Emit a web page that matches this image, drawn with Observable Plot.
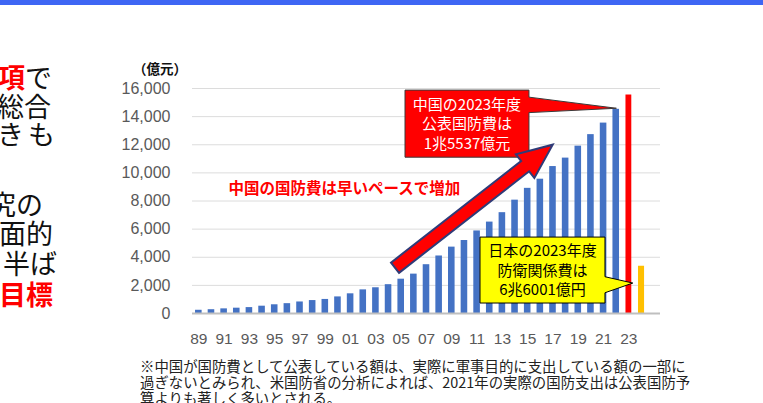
<!DOCTYPE html>
<html><head><meta charset="utf-8">
<script src="https://cdn.jsdelivr.net/npm/d3@7"></script>
<script src="https://cdn.jsdelivr.net/npm/@observablehq/plot@0.6"></script>
<style>
html,body{margin:0;padding:0;background:#fff;overflow:hidden;}
#wrap{position:relative;width:763px;height:403px;overflow:hidden;background:#fff;}
.topbar{position:absolute;left:0;top:0;width:763px;height:5px;background:#3e66f4;}
.side{position:absolute;font-family:"Noto Sans CJK JP",sans-serif;font-size:27px;line-height:27px;color:#111;white-space:nowrap;}
.red{color:#ff0000;font-weight:700;}
.note{position:absolute;left:140px;top:358px;font-family:"Noto Sans CJK JP",sans-serif;font-size:14.4px;line-height:16px;color:#222;white-space:nowrap;}
#chart{position:absolute;left:0;top:0;}
</style></head>
<body>
<div id="wrap">
  <div class="topbar"></div>
  <div id="chart"></div>
  <div id="side"></div>
  <div class="note" id="note"></div>
</div>
<script>
// ---- data ----
const years = [1989,1990,1991,1992,1993,1994,1995,1996,1997,1998,1999,2000,2001,2002,2003,2004,2005,2006,2007,2008,2009,2010,2011,2012,2013,2014,2015,2016,2017,2018,2019,2020,2021,2022,2023];
const chinaValues = [230,270,330,378,420,520,620,700,820,920,1000,1180,1400,1680,1830,2050,2440,2800,3470,4090,4720,5190,5870,6500,7170,8060,8900,9550,10450,11050,11900,12720,13540,14520,15537];
const highlightYear = 2023;
const japanSlot = 2024;
const japanValue = 3360;
const yTicks = [0,2000,4000,6000,8000,10000,12000,14000,16000];
const xTickYears = [1989,1991,1993,1995,1997,1999,2001,2003,2005,2007,2009,2011,2013,2015,2017,2019,2021,2023];
const xTickLabels = ["89","91","93","95","97","99","01","03","05","07","09","11","13","15","17","19","21","23"];
const unitLabel = "（億元）";
const headline = "中国の国防費は早いペースで増加";
const chinaCalloutLines = ["中国の2023年度","公表国防費は","1兆5537億元"];
const japanCalloutLines = ["日本の2023年度","防衛関係費は","6兆6001億円"];
const noteLines = [
  "※中国が国防費として公表している額は、実際に軍事目的に支出している額の一部に",
  "過ぎないとみられ、米国防省の分析によれば、2021年の実際の国防支出は公表国防予",
  "算よりも著しく多いとされる。"
];
const sideLines = [
  {t:[["項","red"],["で",""]], left:-2, top:63},
  {t:[["総合",""]], left:-3, top:92},
  {t:[["き",""],["も",""]], left:-3, top:120, ls:4},
  {t:[["究の",""]], left:-11, top:190},
  {t:[["面的",""]], left:-1, top:219},
  {t:[["半ば",""]], left:3, top:249},
  {t:[["目標","red"]], left:-1, top:280}
];

// ---- table ----
const china = years.map((y,i)=>({year:y, value:chinaValues[i]}));
const chinaBlue = china.filter(d=>d.year!==highlightYear);
const chinaRed = china.filter(d=>d.year===highlightYear);
const japan = [{year:japanSlot, value:japanValue}];

const hw = 0.26;
const chart = Plot.plot({
  width:763, height:403,
  marginLeft:192, marginRight:103, marginTop:88, marginBottom:90,
  style:{background:"transparent", fontFamily:"'Liberation Sans', Arial, sans-serif", overflow:"visible"},
  x:{type:"linear", domain:[1988.5,2025.5], axis:null, label:null},
  y:{domain:[0,16000], axis:null, label:null},
  marks:[
    Plot.ruleY(yTicks.filter(v=>v>0), {stroke:"#dcdcdc", strokeWidth:1}),
    Plot.rectY(chinaBlue, {x1:d=>d.year-hw, x2:d=>d.year+hw, y1:0, y2:"value", fill:"#4472c4"}),
    Plot.rectY(chinaRed, {x1:d=>d.year-0.23, x2:d=>d.year+0.23, y1:0, y2:"value", fill:"#ff0000"}),
    Plot.rectY(japan, {x1:d=>d.year-0.24, x2:d=>d.year+0.24, y1:0, y2:"value", fill:"#ffc000"}),
    Plot.ruleY([0], {stroke:"#bfbfbf", strokeWidth:2}),
    Plot.axisY(yTicks, {label:null, tickSize:0, tickPadding:22, tickFormat:d=>d3.format(",")(d), fontSize:16, color:"#595959"}),
    Plot.axisX(xTickYears, {label:null, tickSize:0, tickPadding:19, tickFormat:d=>xTickLabels[xTickYears.indexOf(d)], fontSize:15.5, color:"#595959"}),
    Plot.text([{x:2000.5, y:8840, t:headline}], {x:"x", y:"y", text:"t", fill:"#ff0000", fontWeight:"bold", fontSize:15.5, fontFamily:"'Noto Sans CJK JP', sans-serif"})
  ]
});
document.getElementById("chart").appendChild(chart);

// ---- annotations via the plot's scales ----
const sx = chart.scale("x"), sy = chart.scale("y");
const X = v=>sx.apply(v), Y = v=>sy.apply(v);
const svg = d3.select(chart);
const g = svg.append("g");

svg.append("text").attr("x", X(1988.5)-32).attr("y", Y(16000)-18)
  .attr("text-anchor","middle").attr("dominant-baseline","middle")
  .attr("font-family","'Noto Sans CJK JP', sans-serif").attr("font-weight","bold").attr("font-size",13.5)
  .attr("fill","#111").text(unitLabel);

const callouts = [
  {x1:2005.34, x2:2015.14, y1:15850, y2:11080, w1:15350, w2:14250, tipX:2022.05, tipY:14560,
   fill:"#ff0000", stroke:"#3a3a3a", color:"#ffffff", lines:chinaCalloutLines},
  {x1:2011.27, x2:2021.15, y1:5400, y2:710, w1:2580, w2:1440, tipX:2023.35, tipY:2130,
   fill:"#ffff00", stroke:"#000000", color:"#000000", lines:japanCalloutLines}
];
const arrow = {x0:2004.55, y0:3220, x1:2017.02, y1:11970};

function drawCallout(c){
  const l=X(c.x1), r=X(c.x2), t=Y(c.y1), b=Y(c.y2), w1=Y(c.w1), w2=Y(c.w2), tx=X(c.tipX), ty=Y(c.tipY);
  g.append("path").attr("d", `M${l},${t}H${r}V${w1}L${tx},${ty}L${r},${w2}V${b}H${l}Z`)
    .attr("fill", c.fill).attr("stroke", c.stroke).attr("stroke-width", 1);
  const cx=(l+r)/2, cy=(t+b)/2+1.5;
  c.lines.forEach((s,i)=>{
    g.append("text").attr("x",cx).attr("y",cy+(i-1)*19.4)
      .attr("text-anchor","middle").attr("dominant-baseline","middle")
      .attr("font-family","'Noto Sans CJK JP', sans-serif").attr("font-size",15)
      .attr("fill", c.color).text(s);
  });
}
function drawArrow(a){
  const x0=X(a.x0), y0=Y(a.y0), x1=X(a.x1), y1=Y(a.y1);
  const dx=x1-x0, dy=y1-y0, L=Math.hypot(dx,dy), ux=dx/L, uy=dy/L, nx=-uy, ny=ux;
  const sw=6.5, hh=15, hl=35;
  const bx=x1-ux*hl, by=y1-uy*hl;
  const pts=[[x0+nx*sw,y0+ny*sw],[bx+nx*sw,by+ny*sw],[bx+nx*hh,by+ny*hh],[x1,y1],[bx-nx*hh,by-ny*hh],[bx-nx*sw,by-ny*sw],[x0-nx*sw,y0-ny*sw]];
  g.append("path").attr("d","M"+pts.map(p=>p.join(",")).join("L")+"Z")
    .attr("fill","#ff0000").attr("stroke","#2f3b78").attr("stroke-width",2).attr("stroke-linejoin","miter");
}
drawCallout(callouts[0]);
drawArrow(arrow);
drawCallout(callouts[1]);

// ---- side text & note ----
const side = document.getElementById("side");
sideLines.forEach(l=>{
  const d=document.createElement("div");
  d.className="side"; d.style.left=l.left+"px"; d.style.top=l.top+"px";
  if(l.ls) d.style.letterSpacing=l.ls+"px";
  l.t.forEach(([s,c])=>{const sp=document.createElement("span"); sp.textContent=s; if(c) sp.className=c; d.appendChild(sp);});
  side.appendChild(d);
});
const note = document.getElementById("note");
noteLines.forEach(s=>{const d=document.createElement("div"); d.textContent=s; note.appendChild(d);});
</script>
</body></html>
